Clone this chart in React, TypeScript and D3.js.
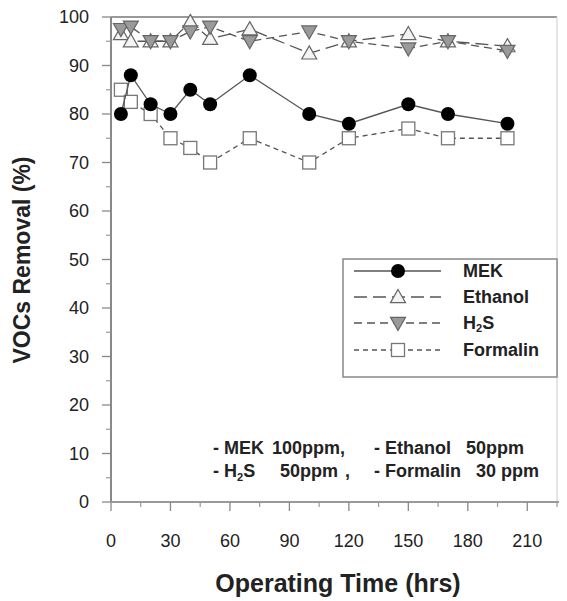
import React from "react";
import * as d3 from "d3";

// operating time (hrs) at which every series was sampled
const hours = [5, 10, 20, 30, 40, 50, 70, 100, 120, 150, 170, 200];
const mek = [80, 88, 82, 80, 85, 82, 88, 80, 78, 82, 80, 78];
const ethanol = [96.5, 95, 95, 95, 99, 95.5, 97.5, 92.5, 95, 96.5, 95, 94];
const h2s = [97.5, 98, 95, 95, 97, 98, 95, 97, 95, 93.5, 95, 93];
const formalin = [85, 82.5, 80, 75, 73, 70, 75, 70, 75, 77, 75, 75];

const xTicks = [0, 30, 60, 90, 120, 150, 180, 210];
const yTicks = [0, 10, 20, 30, 40, 50, 60, 70, 80, 90, 100];

const width = 567;
const height = 601;
const left = 111;
const right = 557;
const top = 17;
const bottom = 502;

const font = "'Liberation Sans', Arial, sans-serif";
const ink = "#222";
const lineCol = "#555";

type Shape = "circle" | "up" | "down" | "square";

const series: { name: string; values: number[]; shape: Shape; dash: string }[] = [
  { name: "Formalin", values: formalin, shape: "square", dash: "5,4" },
  { name: "Ethanol", values: ethanol, shape: "up", dash: "13,6" },
  { name: "H2S", values: h2s, shape: "down", dash: "8,5" },
  { name: "MEK", values: mek, shape: "circle", dash: "" },
];

const legendOrder = ["MEK", "Ethanol", "H2S", "Formalin"];

function Marker({ shape, cx, cy }: { shape: Shape; cx: number; cy: number }) {
  if (shape === "circle") return <circle cx={cx} cy={cy} r={7} fill="#000" />;
  if (shape === "square")
    return <rect x={cx - 6.5} y={cy - 6.5} width={13} height={13} fill="#fff" stroke="#777" strokeWidth={1.3} />;
  const s = 7.5;
  const pts =
    shape === "up"
      ? [[cx, cy - s], [cx + s, cy + s * 0.75], [cx - s, cy + s * 0.75]]
      : [[cx, cy + s], [cx + s, cy - s * 0.75], [cx - s, cy - s * 0.75]];
  return (
    <polygon
      points={pts.map((p) => p.join(",")).join(" ")}
      fill={shape === "up" ? "#f4f4f4" : "#9a9a9a"}
      stroke="#666"
      strokeWidth={1.2}
    />
  );
}

function Label({ name, x, y }: { name: string; x: number; y: number }) {
  if (name === "H2S")
    return (
      <text x={x} y={y} fontFamily={font} fontWeight="bold" fontSize={18} fill={ink} dominantBaseline="central">
        H<tspan fontSize={11} dy={5}>2</tspan>
        <tspan dy={-5}>S</tspan>
      </text>
    );
  return (
    <text x={x} y={y} fontFamily={font} fontWeight="bold" fontSize={18} fill={ink} dominantBaseline="central">
      {name}
    </text>
  );
}

const note = { fontFamily: font, fontWeight: "bold" as const, fontSize: 18, fill: ink };

export default function App() {
  const x = d3.scaleLinear().domain([0, 225]).range([left, right]);
  const y = d3.scaleLinear().domain([0, 100]).range([bottom, top]);

  const line = d3
    .line<number>()
    .x((_, i) => x(hours[i]))
    .y((d) => y(d));

  const xMinor = d3.range(15, 226, 30);
  const yMinor = d3.range(5, 100, 10);

  const legY = [271, 297, 323, 350];

  return (
    <svg width={width} height={height} style={{ position: "absolute", left: 0, top: 0, background: "#fff" }}>
      {/* frame */}
      <line x1={left} x2={right} y1={top} y2={top} stroke="#999" strokeWidth={2} />
      <line x1={right} x2={right} y1={top} y2={bottom} stroke="#ddd" strokeWidth={1.5} />
      <line x1={left} x2={left} y1={top} y2={bottom} stroke="#888" strokeWidth={2} />
      <line x1={left} x2={right + 2} y1={bottom} y2={bottom} stroke="#999" strokeWidth={2} />

      {/* x ticks */}
      {xTicks.map((t) => (
        <g key={"xt" + t}>
          <line x1={x(t)} x2={x(t)} y1={bottom} y2={bottom + 9} stroke="#888" strokeWidth={1.3} />
          <text x={x(t)} y={547} textAnchor="middle" fontFamily={font} fontSize={18} fill={ink}>
            {t}
          </text>
        </g>
      ))}
      {xMinor.map((t) => (
        <line key={"xm" + t} x1={x(t)} x2={x(t)} y1={bottom} y2={bottom + 5} stroke="#999" strokeWidth={1.2} />
      ))}

      {/* y ticks */}
      {yTicks.map((t) => (
        <g key={"yt" + t}>
          <line x1={left - 9} x2={left} y1={y(t)} y2={y(t)} stroke="#888" strokeWidth={1.3} />
          <text x={89} y={y(t)} textAnchor="end" dominantBaseline="central" fontFamily={font} fontSize={18} fill={ink}>
            {t}
          </text>
        </g>
      ))}
      {yMinor.map((t) => (
        <line key={"ym" + t} x1={left - 5} x2={left} y1={y(t)} y2={y(t)} stroke="#999" strokeWidth={1.2} />
      ))}

      {/* series */}
      {series.map((s) => (
        <g key={s.name}>
          <path
            d={line(s.values) ?? ""}
            fill="none"
            stroke={lineCol}
            strokeWidth={1.3}
            strokeDasharray={s.dash || undefined}
          />
          {s.values.map((v, i) => (
            <Marker key={i} shape={s.shape} cx={x(hours[i])} cy={y(v)} />
          ))}
        </g>
      ))}

      {/* legend */}
      <rect x={343} y={259} width={right - 343} height={118} fill="#fff" stroke="#888" strokeWidth={1.5} />
      {legendOrder.map((name, i) => {
        const s = series.find((d) => d.name === name)!;
        return (
          <g key={"lg" + name}>
            <line
              x1={354}
              x2={441}
              y1={legY[i]}
              y2={legY[i]}
              stroke={lineCol}
              strokeWidth={1.3}
              strokeDasharray={s.dash || undefined}
            />
            <Marker shape={s.shape} cx={398} cy={legY[i]} />
            <Label name={name} x={463} y={legY[i]} />
          </g>
        );
      })}

      {/* conditions */}
      <text x={213} y={454} {...note}>- MEK</text>
      <text x={272} y={454} {...note}>100ppm,</text>
      <text x={374} y={454} {...note}>- Ethanol</text>
      <text x={524} y={454} textAnchor="end" {...note}>50ppm</text>
      <text x={213} y={477} {...note}>
        - H<tspan fontSize={11} dy={4}>2</tspan>
        <tspan dy={-4}>S</tspan>
      </text>
      <text x={280} y={477} {...note}>50ppm</text>
      <text x={345} y={477} {...note}>,</text>
      <text x={374} y={477} {...note}>- Formalin</text>
      <text x={539} y={477} textAnchor="end" {...note}>30 ppm</text>

      {/* axis titles */}
      <text x={338} y={592} textAnchor="middle" fontFamily={font} fontWeight="bold" fontSize={25} fill={ink}>
        Operating Time (hrs)
      </text>
      <text
        transform={`translate(30,${260}) rotate(-90)`}
        textAnchor="middle"
        fontFamily={font}
        fontWeight="bold"
        fontSize={23}
        fill={ink}
      >
        VOCs Removal (%)
      </text>
    </svg>
  );
}
